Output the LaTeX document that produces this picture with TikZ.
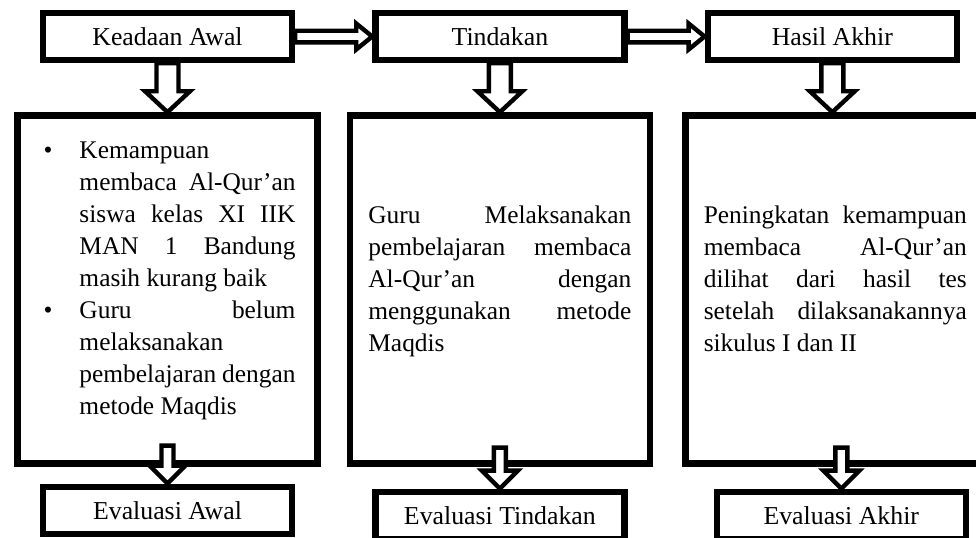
\documentclass[tikz,border=0pt]{standalone}
\usepackage{fontspec}
\setmainfont{Liberation Serif}
\usepackage{tikz}
\usetikzlibrary{positioning,calc}
\hyphenpenalty=10000
\exhyphenpenalty=10000
\tikzset{
  stage/.style={draw=black, line width=3.2pt, fill=white, align=center,
    minimum width=124.5pt, minimum height=23.5pt, inner sep=2pt,
    font=\fontsize{12.9pt}{16pt}\selectfont},
  detail/.style={draw=black, line width=3.2pt, fill=white, align=justify,
    text width=131.5pt, minimum width=150pt, minimum height=174pt,
    font=\fontsize{12.7pt}{16pt}\selectfont},
  hollow/.style={draw=black, line width=2.2pt, fill=white, line join=miter}
}
% hollow block arrows: from, to, shaft half width, head half width, head length
\newcommand{\hollowdown}[5]{%
  \draw[hollow] let \p1=(#1), \p2=(#2) in
    (\x1-#3,\y1) -- (\x1+#3,\y1) -- (\x1+#3,\y2+#5) -- (\x1+#4,\y2+#5) --
    (\x1,\y2) -- (\x1-#4,\y2+#5) -- (\x1-#3,\y2+#5) -- cycle;}
\newcommand{\hollowright}[5]{%
  \draw[hollow] let \p1=(#1), \p2=(#2) in
    (\x1,\y1+#3) -- (\x2-#5,\y1+#3) -- (\x2-#5,\y1+#4) -- (\x2,\y1) --
    (\x2-#5,\y1-#4) -- (\x2-#5,\y1-#3) -- (\x1,\y1-#3) -- cycle;}
\newcommand{\itembullet}{\hangindent=20pt\hangafter=0\noindent\llap{\textbullet\hspace{13.5pt}}}
\newcommand{\lift}{\rule[-11pt]{0pt}{0pt}}

\begin{document}
\begin{tikzpicture}[x=0.5pt, y=-0.5pt, node distance=24.5pt and 38.5pt]
  \useasboundingbox (0,0) rectangle (976,537);
  \clip (0,0) rectangle (976,537);
  \node[stage] (keadaan) at (167.5,36.5) {Keadaan Awal};
  \node[stage, right=of keadaan] (tindakan) {Tindakan};
  \node[stage, right=of tindakan] (hasil) {Hasil Akhir};
  \node[detail, below=of keadaan, text width=128pt] (kondisi) {%
    \itembullet Kemampuan\linebreak membaca Al-Qur’an\linebreak siswa kelas XI IIK\linebreak
    MAN 1 Bandung\linebreak masih kurang baik\par
    \itembullet Guru belum\linebreak melaksanakan\linebreak pembelajaran dengan\linebreak
    metode Maqdis\lift\par};
  \node[detail, below=of tindakan] (proses) {%
    Guru Melaksanakan\linebreak pembelajaran membaca\linebreak Al-Qur’an dengan\linebreak
    menggunakan metode\linebreak Maqdis\lift};
  \node[detail, below=of hasil, xshift=1.5pt] (capaian) {%
    Peningkatan kemampuan\linebreak membaca Al-Qur’an\linebreak dilihat dari hasil tes\linebreak
    setelah dilaksanakannya\linebreak sikulus I dan II\lift};
  \node[stage, below=8.5pt of kondisi] (evalawal) {Evaluasi Awal};
  \node[stage, below=11pt of proses] (evaltindakan) {Evaluasi Tindakan};
  \node[stage, below=11pt of capaian, xshift=3pt] (evalakhir) {Evaluasi Akhir};
  % arrows between the stages
  \hollowright{keadaan.east}{tindakan.west}{2.9pt}{6.5pt}{8pt}
  \hollowright{tindakan.east}{hasil.west}{2.9pt}{6.5pt}{8pt}
  \hollowdown{keadaan.south}{keadaan.south |- kondisi.north}{5.5pt}{11.25pt}{10.5pt}
  \hollowdown{tindakan.south}{tindakan.south |- proses.north}{5.5pt}{11.25pt}{10.5pt}
  \hollowdown{hasil.south}{hasil.south |- capaian.north}{5.5pt}{11.25pt}{10.5pt}
  \hollowdown{$(evalawal.north |- kondisi.south)+(0,-21)$}{evalawal.north}{3pt}{9pt}{9pt}
  \hollowdown{$(evaltindakan.north |- proses.south)+(0,-19)$}{evaltindakan.north}{3pt}{9pt}{9pt}
  \hollowdown{$(evalakhir.north |- capaian.south)+(0,-19)$}{evalakhir.north}{3pt}{9pt}{9pt}
\end{tikzpicture}
\end{document}
